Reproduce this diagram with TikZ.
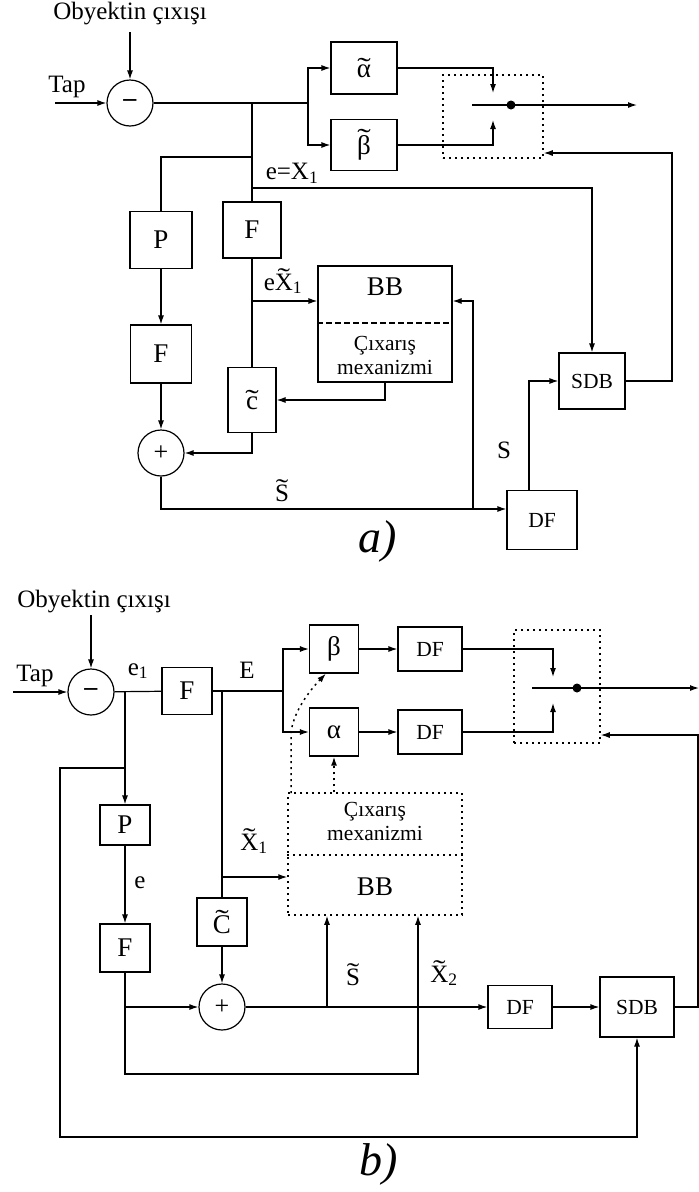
\documentclass[tikz,border=0pt]{standalone}
\usepackage{fontspec}
\setmainfont{Liberation Serif}
\usepackage{graphicx}
\usetikzlibrary{arrows.meta,calc}
\newcommand{\tld}[1]{\leavevmode\setbox0\hbox{#1}\setbox2\hbox{x}\rlap{\makebox[\wd0]{\raisebox{\dimexpr\ht0-\ht2\relax}{\scalebox{1.5}[1]{\char"02DC}}}}\box0}
\begin{document}
\begin{tikzpicture}[x=1pt,y=-1pt,
 ln/.style={line width=1.2pt},
 arr/.style={ln,-{Latex[length=9pt,width=6pt]}},
 blk/.style={draw,ln,inner sep=0pt,font=\fontsize{27}{29}\selectfont},
 sblk/.style={blk,font=\fontsize{21}{23}\selectfont},
 sumc/.style={draw,ln,circle,minimum size=46pt,inner sep=0pt,font=\fontsize{26}{28}\selectfont},
 lbl/.style={inner sep=0pt,font=\fontsize{25}{27}\selectfont},
 slbl/.style={inner sep=0pt,font=\fontsize{21.5}{24}\selectfont,align=center},
 dotbox/.style={draw,line width=1.5pt,dash pattern=on 2pt off 4pt},
 dotln/.style={line width=1.5pt,dash pattern=on 2pt off 4pt},
 dotarr/.style={dotln,-{Latex[length=9pt,width=6pt]}},
 jdot/.style={circle,fill,inner sep=0pt,minimum size=9pt},
 figlbl/.style={inner sep=0pt,font=\fontsize{46}{48}\selectfont\itshape}
]
\useasboundingbox (0,0) rectangle (699,1192);

% ================= part a =================
\node[lbl] (aobj) at (130,14) {Obyektin çıxışı};
\node[sumc] (asub) at (130,103) {\textbf{–}};
\coordinate (atap) at (55,103);
\node[lbl] (ataplbl) at (67,87) {Tap};
\coordinate (aobjs) at (130,32);
\draw[arr] (aobjs) -- (asub);
\draw[arr] (atap) -- (asub);

\coordinate (aj1) at (252,103);
\coordinate (abr) at (308,103);
\coordinate (aj2) at (252,157);
\coordinate (aj3) at (252,188);

\node[blk,minimum width=66pt,minimum height=52pt] (aal) at (364,68) {\tld{α}};
\node[blk,minimum width=66pt,minimum height=51pt] (abe) at (364,145) {\tld{β}};
\draw[ln] (asub) -- (abr);
\draw[arr] (abr) |- (aal);
\draw[arr] (abr) |- (abe);

\node[dotbox,minimum width=100pt,minimum height=83pt] (asw) at (493,116.5) {};
\coordinate (aswin) at (472,105);
\coordinate (aout) at (637,105);
\draw[arr] (aswin) -- (aout);
\node[jdot] (adot) at (511,105) {};
\coordinate (aup) at (493,93);
\coordinate (adn) at (493,120);
\draw[arr] (aal.east) -| (aup);
\draw[arr] (abe.east) -| (adn);

\node[blk,minimum width=62pt,minimum height=57pt] (aP) at (161,240) {P};
\node[blk,minimum width=58pt,minimum height=56pt] (aF1) at (252,230) {F};
\draw[ln] (aj1) -- (aF1.north);
\draw[ln] (aj2) -| (aP.north);
\node[lbl] (aeX) at (292,173) {e=X\textsubscript{1}};

\node[blk,minimum width=66pt,minimum height=56pt] (aSDB) at (592,381) {};
\node[slbl] (aSDBt) at (aSDB) {SDB};
\draw[arr] (aj3) -| (aSDB.north);

\node[blk,minimum width=134pt,minimum height=116pt] (aBB) at (385,324) {};
\node[blk,draw=none] (aBBt) at (385,287) {BB};
\node[slbl] (aCx) at (385,355) {Çıxarış\\mexanizmi};
\draw[ln,dash pattern=on 6pt off 3pt] (aBB.west |- 0,323) coordinate (advl) -- (aBB.east |- 0,323) coordinate (advr);

\coordinate (aj4) at (252,301);
\draw[arr] (aj4) -- (aBB.west |- aj4);
\node[lbl] (aeXt) at (283,281) {e\tld{X}\textsubscript{1}};

\node[blk,minimum width=48pt,minimum height=65pt] (ac) at (252,400) {\tld{c}};
\draw[ln] (aF1.south) -- (ac.north);
\draw[arr] (aBB.south) |- (ac.east);

\node[blk,minimum width=61pt,minimum height=58pt] (aF2) at (161,354) {F};
\node[sumc] (aplus) at (161,453) {+};
\draw[arr] (aP) -- (aF2);
\draw[arr] (aF2) -- (aplus);
\draw[arr] (ac.south) |- (aplus.east);

\node[blk,minimum width=70pt,minimum height=59pt] (aDF) at (542,520) {};
\node[slbl] (aDFt) at (aDF) {DF};
\coordinate (abot) at (161,509);
\draw[arr] (aplus.south) |- (aDF.west |- abot);
\coordinate (aj5) at (473,509);
\draw[arr] (aj5) |- (aBB.east |- aj4);
\node[lbl] (aSt) at (282,491) {\tld{S}};
\node[lbl] (aS) at (504,450) {S};
\draw[arr] ([xshift=-13pt]aDF.north) |- (aSDB.west);
\coordinate (afb) at (672,153);
\draw[arr] (aSDB.east) -| (afb) -- (asw.east |- afb);

\node[figlbl] (alab) at (378,541) {a)};

% ================= part b =================
\node[lbl] (bobj) at (94,602) {Obyektin çıxışı};
\node[sumc] (bsub) at (91,692) {\textbf{–}};
\coordinate (btap) at (13,692);
\node[lbl] (btaplbl) at (35,676) {Tap};
\coordinate (bobjs) at (91,615);
\draw[arr] (bobjs) -- (bsub);
\draw[arr] (btap) -- (bsub);

\node[blk,minimum width=50pt,minimum height=47pt] (bF) at (187,691) {F};
\coordinate (bj1) at (125,691);
\draw[ln] (bsub) -- (bF);
\node[lbl] (be1) at (138,671) {e\textsubscript{1}};

\node[blk,minimum width=50pt,minimum height=40pt] (bP) at (125,825) {P};
\draw[arr] (bj1) -- (bP.north);
\node[blk,minimum width=50pt,minimum height=48pt] (bF2) at (125,948) {F};
\draw[arr] (bP) -- (bF2);
\node[lbl] (be) at (140,883) {e};

\node[blk,minimum width=74pt,minimum height=60pt] (bSDB) at (637,1007) {};
\node[slbl] (bSDBt) at (bSDB) {SDB};
\node[blk,minimum width=64pt,minimum height=43pt] (bDF) at (520,1007) {};
\node[slbl] (bDFt) at (bDF) {DF};

\coordinate (bj2) at (125,768);
\coordinate (bloop) at (60,1137);
\draw[arr] (bj2) -| (bloop) -| (bSDB.south);

\node[sumc] (bplus) at (222,1007) {+};
\node[blk,minimum width=50pt,minimum height=48pt] (bC) at (222,922) {\tld{C}};
\draw[arr] (bC) -- (bplus);
\coordinate (bj3) at (125,1007);
\draw[arr] (bj3) -- (bplus.west);

\coordinate (bbr) at (283,691);
\coordinate (bj4) at (222,691);
\draw[ln] (bF) -- (bbr);
\draw[ln] (bj4) -- (bC.north);
\node[lbl] (bE) at (247,670) {E};

\node[blk,minimum width=49pt,minimum height=48pt] (bbe) at (334,649) {β};
\node[blk,minimum width=49pt,minimum height=48pt] (bal) at (334,732) {α};
\draw[arr] (bbr) |- (bbe);
\draw[arr] (bbr) |- (bal);
\node[blk,minimum width=64pt,minimum height=44pt] (bdf1) at (430,649) {};
\node[slbl] (bdf1t) at (bdf1) {DF};
\node[blk,minimum width=64pt,minimum height=44pt] (bdf2) at (430,732) {};
\node[slbl] (bdf2t) at (bdf2) {DF};
\draw[arr] (bbe) -- (bdf1);
\draw[arr] (bal) -- (bdf2);

\node[dotbox,minimum width=86pt,minimum height=113pt] (bsw) at (557,686.5) {};
\coordinate (bswin) at (532,688);
\coordinate (bout) at (699,688);
\draw[arr] (bswin) -- (bout);
\node[jdot] (bdot) at (577,688) {};
\coordinate (bup) at (553,677);
\coordinate (bdn) at (553,703);
\draw[arr] (bdf1.east) -| (bup);
\draw[arr] (bdf2.east) -| (bdn);

\coordinate (bre) at (698,735);
\draw[arr] (bSDB.east) -| (bre) -- (bsw.east |- bre);

\node[dotbox,minimum width=174pt,minimum height=122pt] (bBB) at (375,854) {};
\node[slbl] (bCx) at (375,821) {Çıxarış\\mexanizmi};
\node[blk,draw=none] (bBBt) at (375,887) {BB};
\draw[dotln] (bBB.west |- 0,855) coordinate (bdvl) -- (bBB.east |- 0,855) coordinate (bdvr);

\coordinate (bj5) at (222,877);
\draw[arr] (bj5) -- (bBB.west |- bj5);
\node[lbl] (bX1) at (254,841) {\tld{X}\textsubscript{1}};

\coordinate (bj6) at (327,1007);
\draw[ln] (bplus.east) -- (bj6);
\draw[arr] (bj6) -- (bBB.south -| bj6);
\draw[arr] (bj6) -- (bDF.west);
\draw[arr] (bDF) -- (bSDB);
\node[lbl] (bSt) at (353,975) {\tld{S}};

\coordinate (bx2b) at (418,1074);
\draw[arr] (bF2.south) |- (bx2b) -- (bBB.south -| bx2b);
\node[lbl] (bX2) at (444,973) {\tld{X}\textsubscript{2}};

\draw[dotarr] (bBB.north -| bal) -- (bal.south);
\coordinate (bdc) at (291,793);
\coordinate (bdm) at (291,733);
\draw[dotarr] (bdc) -- (bdm) .. controls (293,712) and (310,690) .. ([xshift=-8pt]bbe.south);

\node[figlbl] (blab) at (379,1164) {b)};
\end{tikzpicture}
\end{document}
